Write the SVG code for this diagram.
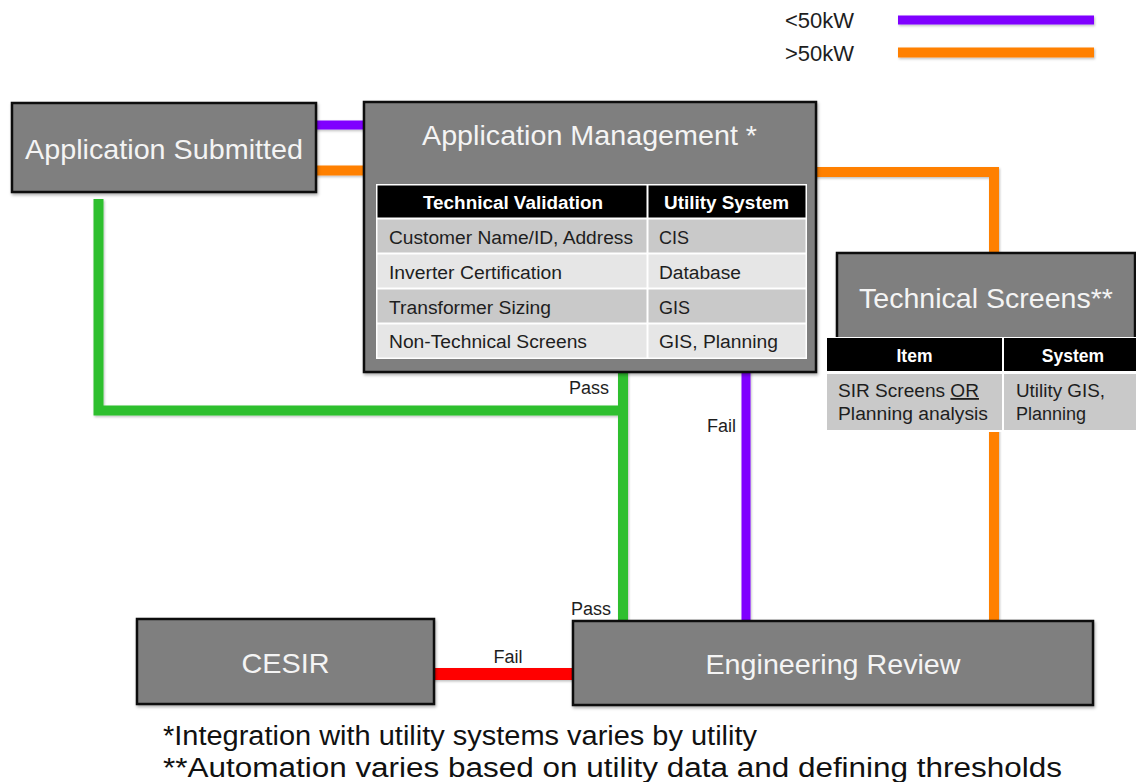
<svg xmlns="http://www.w3.org/2000/svg" width="1136" height="782" viewBox="0 0 1136 782">
  <defs>
    <filter id="sh" x="-5%" y="-5%" width="115%" height="125%">
      <feDropShadow dx="1" dy="2" stdDeviation="1.5" flood-color="#000" flood-opacity="0.3"/>
    </filter>
    <filter id="lsh" filterUnits="userSpaceOnUse" x="0" y="0" width="1136" height="782">
      <feDropShadow dx="1" dy="1.5" stdDeviation="1" flood-color="#000" flood-opacity="0.25"/>
    </filter>
  </defs>
  <style>
    text { font-family: "Liberation Sans", Arial, sans-serif; }
    .box { fill: #7f7f7f; stroke: #111; stroke-width: 2.5; }
    .title { fill: #f4f4f4; font-size: 28px; }
    .th { fill: #fff; font-size: 17.5px; font-weight: bold; text-anchor: middle; }
    .td { fill: #1e1e1e; font-size: 18px; }
    .hdr { fill: #000; }
    .rowd { fill: #c9c9c9; }
    .rowl { fill: #e6e6e6; }
    .lbl { fill: #1e1e1e; font-size: 18px; text-anchor: end; }
    .leg { fill: #1e1e1e; font-size: 22px; }
    .foot { fill: #111; font-size: 27px; }
    .c { fill: none; stroke-linejoin: miter; stroke-linecap: butt; }
    .purple { stroke: #7f00ff; stroke-width: 9; }
    .orange { stroke: #ff8000; stroke-width: 10; }
    .green { stroke: #2dbf2d; stroke-width: 10; }
    .red { stroke: #ff0000; stroke-width: 12; }
  </style>

  <g id="legend">
    <text class="leg" x="785" y="28">&lt;50kW</text>
    <text class="leg" x="785" y="61">&gt;50kW</text>
    <g filter="url(#lsh)">
      <line class="c purple" x1="898" y1="20" x2="1094" y2="20"/>
      <line class="c orange" x1="898" y1="52.5" x2="1094" y2="52.5"/>
    </g>
  </g>

  <g id="connectors" filter="url(#lsh)">
    <line class="c purple" x1="314" y1="125" x2="366" y2="125"/>
    <line class="c orange" x1="314" y1="170.5" x2="366" y2="170.5"/>
    <polyline class="c orange" points="814,172 994,172 994,255"/>
    <line class="c orange" x1="994" y1="428" x2="994" y2="622"/>
    <polyline class="c green" points="98.5,199 98.5,410.5 623,410.5"/>
    <line class="c green" x1="623" y1="370" x2="623" y2="622"/>
    <line class="c purple" x1="746" y1="370" x2="746" y2="622"/>
    <line class="c red" x1="432" y1="674" x2="575" y2="674"/>
  </g>

  <g id="labels">
    <text class="lbl" x="609" y="394">Pass</text>
    <text class="lbl" x="736" y="432">Fail</text>
    <text class="lbl" x="611" y="615">Pass</text>
    <text class="lbl" x="508" y="663" style="text-anchor:middle">Fail</text>
  </g>

  <g id="app-submitted">
    <rect class="box" x="12" y="103" width="304" height="89" filter="url(#sh)"/>
    <text class="title" x="25" y="159" textLength="278" lengthAdjust="spacingAndGlyphs">Application Submitted</text>
  </g>

  <g id="app-management">
    <rect class="box" x="364" y="102" width="452" height="270" filter="url(#sh)"/>
    <text class="title" x="422" y="145" textLength="335" lengthAdjust="spacingAndGlyphs">Application Management *</text>
    <rect x="376" y="184" width="431" height="175" fill="#fff"/>
    <rect class="hdr" x="377.5" y="185.5" width="269" height="32"/>
    <rect class="hdr" x="648.5" y="185.5" width="157" height="32"/>
    <rect class="rowd" x="377.5" y="219.5" width="269" height="33"/>
    <rect class="rowd" x="648.5" y="219.5" width="157" height="33"/>
    <rect class="rowl" x="377.5" y="254.5" width="269" height="33"/>
    <rect class="rowl" x="648.5" y="254.5" width="157" height="33"/>
    <rect class="rowd" x="377.5" y="289.5" width="269" height="33"/>
    <rect class="rowd" x="648.5" y="289.5" width="157" height="33"/>
    <rect class="rowl" x="377.5" y="324.5" width="269" height="33"/>
    <rect class="rowl" x="648.5" y="324.5" width="157" height="33"/>
    <text class="th" x="513" y="209" textLength="180" lengthAdjust="spacingAndGlyphs">Technical Validation</text>
    <text class="th" x="726.5" y="209" textLength="125" lengthAdjust="spacingAndGlyphs">Utility System</text>
    <text class="td" x="389" y="244" textLength="244" lengthAdjust="spacingAndGlyphs">Customer Name/ID, Address</text>
    <text class="td" x="659" y="244">CIS</text>
    <text class="td" x="389" y="279" textLength="173" lengthAdjust="spacingAndGlyphs">Inverter  Certification</text>
    <text class="td" x="659" y="279" textLength="82" lengthAdjust="spacingAndGlyphs">Database</text>
    <text class="td" x="389" y="314" textLength="162" lengthAdjust="spacingAndGlyphs">Transformer Sizing</text>
    <text class="td" x="659" y="314">GIS</text>
    <text class="td" x="389" y="348" textLength="198" lengthAdjust="spacingAndGlyphs">Non-Technical Screens</text>
    <text class="td" x="659" y="348" textLength="119" lengthAdjust="spacingAndGlyphs">GIS, Planning</text>
  </g>

  <g id="technical-screens">
    <rect class="box" x="837" y="253" width="298" height="86" filter="url(#sh)"/>
    <text class="title" x="859" y="308" textLength="254" lengthAdjust="spacingAndGlyphs">Technical Screens**</text>
    <rect x="826" y="337" width="311" height="95" fill="#fff"/>
    <rect class="hdr" x="827" y="338" width="175" height="33"/>
    <rect class="hdr" x="1004" y="338" width="132" height="33"/>
    <rect class="rowd" x="827" y="374" width="175" height="56"/>
    <rect class="rowd" x="1004" y="374" width="132" height="56"/>
    <text class="th" x="914.5" y="362">Item</text>
    <text class="th" x="1073" y="362">System</text>
    <text class="td" x="838" y="397" textLength="141" lengthAdjust="spacingAndGlyphs">SIR Screens <tspan text-decoration="underline">OR</tspan></text>
    <text class="td" x="838" y="420" textLength="150" lengthAdjust="spacingAndGlyphs">Planning analysis</text>
    <text class="td" x="1016" y="397" textLength="89" lengthAdjust="spacingAndGlyphs">Utility GIS,</text>
    <text class="td" x="1016" y="420">Planning</text>
  </g>

  <g id="cesir">
    <rect class="box" x="137" y="619" width="297" height="85" filter="url(#sh)"/>
    <text class="title" x="285.5" y="673" text-anchor="middle" textLength="88" lengthAdjust="spacingAndGlyphs">CESIR</text>
  </g>

  <g id="engineering-review">
    <rect class="box" x="573" y="621" width="520" height="84" filter="url(#sh)"/>
    <text class="title" x="833" y="674" text-anchor="middle" textLength="255" lengthAdjust="spacingAndGlyphs">Engineering Review</text>
  </g>

  <g id="footnotes">
    <text class="foot" x="163" y="745" textLength="594" lengthAdjust="spacingAndGlyphs">*Integration with utility systems varies by utility</text>
    <text class="foot" x="163" y="777" textLength="899" lengthAdjust="spacingAndGlyphs">**Automation varies based on utility data and defining thresholds</text>
  </g>
</svg>
